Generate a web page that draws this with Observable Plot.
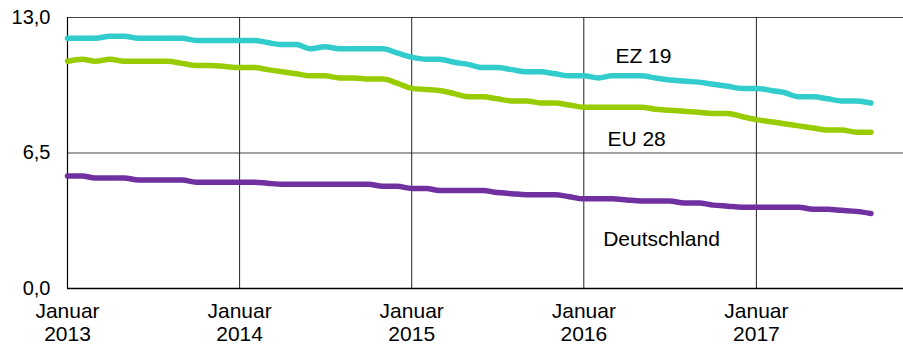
<!DOCTYPE html>
<html>
<head>
<meta charset="utf-8">
<script src="https://cdn.jsdelivr.net/npm/d3@7"></script>
<script src="https://cdn.jsdelivr.net/npm/@observablehq/plot@0.6"></script>
<style>
  html, body { margin: 0; padding: 0; background: #fff; }
  #chart { width: 903px; height: 348px; }
</style>
</head>
<body>
<div id="chart"></div>
<script>
// Monthly values, January 2013 – September 2017
const startYear = 2013;
const ez19 = [
  12.0, 12.0, 12.0, 12.1, 12.1, 12.0, 12.0, 12.0, 12.0, 11.9, 11.9, 11.9,
  11.9, 11.9, 11.8, 11.7, 11.7, 11.5, 11.6, 11.5, 11.5, 11.5, 11.5, 11.3,
  11.1, 11.0, 11.0, 10.85, 10.75, 10.6, 10.6, 10.5, 10.4, 10.4, 10.3, 10.2,
  10.2, 10.1, 10.2, 10.2, 10.2, 10.1, 10.0, 9.95, 9.9, 9.8, 9.7, 9.6,
  9.6, 9.5, 9.4, 9.2, 9.2, 9.1, 9.0, 9.0, 8.9
];
const eu28 = [
  10.9, 11.0, 10.9, 11.0, 10.9, 10.9, 10.9, 10.9, 10.8, 10.7, 10.7, 10.65,
  10.6, 10.6, 10.5, 10.4, 10.3, 10.2, 10.2, 10.1, 10.1, 10.05, 10.05, 9.85,
  9.6, 9.55, 9.5, 9.35, 9.2, 9.2, 9.1, 9.0, 9.0, 8.9, 8.9, 8.8,
  8.7, 8.7, 8.7, 8.7, 8.7, 8.6, 8.55, 8.5, 8.45, 8.4, 8.4, 8.25,
  8.1, 8.0, 7.9, 7.8, 7.7, 7.6, 7.6, 7.5, 7.5
];
const deutschland = [
  5.4, 5.4, 5.3, 5.3, 5.3, 5.2, 5.2, 5.2, 5.2, 5.1, 5.1, 5.1,
  5.1, 5.1, 5.05, 5.0, 5.0, 5.0, 5.0, 5.0, 5.0, 5.0, 4.9, 4.9,
  4.8, 4.8, 4.7, 4.7, 4.7, 4.7, 4.6, 4.55, 4.5, 4.5, 4.5, 4.4,
  4.3, 4.3, 4.3, 4.25, 4.2, 4.2, 4.2, 4.1, 4.1, 4.0, 3.95, 3.9,
  3.9, 3.9, 3.9, 3.9, 3.8, 3.8, 3.75, 3.7, 3.6
];
const seriesNames = ["EZ 19", "EU 28", "Deutschland"];
const seriesColors = ["#33cccc", "#99cc00", "#7030a0"];
const yTicks = [0, 6.5, 13];
const xTickYears = [2013, 2014, 2015, 2016, 2017];
const xTickMonthName = "Januar";
// label anchor points (date, value) for the series names
const labelDates = [new Date(Date.UTC(2016, 2, 8)), new Date(Date.UTC(2016, 1, 20)), new Date(Date.UTC(2016, 1, 11))];
const labelValues = [11.13, 7.15, 2.35];

const month = i => new Date(Date.UTC(startYear, i, 1));
const rows = [];
[ez19, eu28, deutschland].forEach((vals, s) => {
  vals.forEach((v, i) => rows.push({series: seriesNames[s], date: month(i), value: v}));
});
const labels = seriesNames.map((n, i) => ({name: n, date: labelDates[i], value: labelValues[i]}));
const xTicks = xTickYears.map(y => new Date(Date.UTC(y, 0, 1)));

const chart = Plot.plot({
  width: 903,
  height: 348,
  marginLeft: 67,
  marginRight: 0,
  marginTop: 17,
  marginBottom: 60,
  style: {fontFamily: "'Liberation Sans', Arial, sans-serif", fontSize: "20px", color: "#000", background: "#fff"},
  x: {type: "utc", domain: [new Date(Date.UTC(2013, 0, 1)), new Date(Date.UTC(2017, 10, 9))]},
  y: {domain: [0, 13]},
  color: {domain: seriesNames, range: seriesColors},
  marks: [
    Plot.ruleY([13, 6.5], {stroke: "#444", strokeWidth: 1}),
    Plot.ruleX(xTicks.slice(1), {stroke: "#222", strokeWidth: 1}),
    Plot.ruleX([xTicks[0]], {stroke: "#000", strokeWidth: 1.2}),
    Plot.ruleY([0], {stroke: "#000", strokeWidth: 1.5}),
    Plot.line(rows, {x: "date", y: "value", z: "series", stroke: "series", strokeWidth: 5.5, curve: "monotone-x", strokeLinecap: "round", strokeLinejoin: "round"}),
    Plot.text(labels, {x: "date", y: "value", text: "name", textAnchor: "start", fontSize: 21, fill: "#000"}),
    Plot.axisY({ticks: yTicks, tickFormat: d => d.toFixed(1).replace(".", ","), tickSize: 0, tickPadding: 17, fontSize: 20, label: null}),
    Plot.axisX({ticks: xTicks, tickFormat: d => `${xTickMonthName}\n${d.getUTCFullYear()}`, tickSize: 0, tickPadding: 12, fontSize: 21, lineHeight: 1.14, label: null})
  ]
});
document.getElementById("chart").appendChild(chart);
</script>
</body>
</html>
